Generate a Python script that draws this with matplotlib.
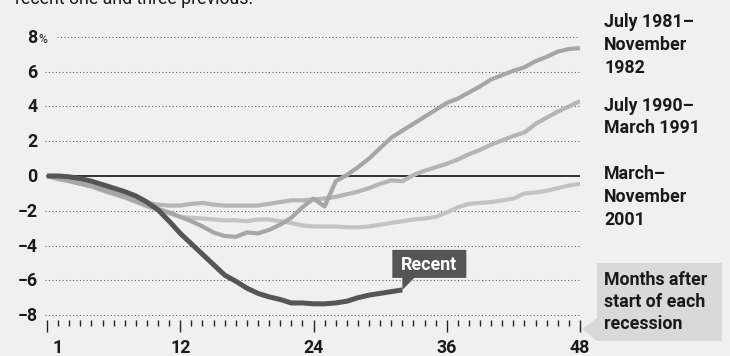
import matplotlib
matplotlib.use("Agg")
import matplotlib.pyplot as plt
from matplotlib.patches import Polygon
from matplotlib.transforms import IdentityTransform

# ---------------- data ----------------
months = list(range(0, 49))
recent = [0, 0.0, -0.05, -0.15, -0.3, -0.5, -0.7, -0.9, -1.15, -1.5, -1.95, -2.6,
          -3.3, -3.9, -4.5, -5.1, -5.7, -6.05, -6.45, -6.75, -6.95, -7.1, -7.3, -7.3,
          -7.35, -7.35, -7.3, -7.2, -7.0, -6.85, -6.75, -6.65, -6.55]
r1981 = [0, -0.15, -0.3, -0.45, -0.6, -0.8, -1.0, -1.2, -1.45, -1.7, -1.9, -2.1,
         -2.35, -2.6, -2.9, -3.25, -3.45, -3.5, -3.25, -3.3, -3.1, -2.8, -2.4, -1.8,
         -1.3, -1.75, -0.3, 0.05, 0.5, 1.0, 1.6, 2.2, 2.6, 3.0, 3.4, 3.8,
         4.2, 4.45, 4.8, 5.15, 5.55, 5.8, 6.05, 6.25, 6.6, 6.85, 7.15, 7.3, 7.35]
r1990 = [0, -0.1, -0.25, -0.4, -0.55, -0.75, -0.95, -1.15, -1.35, -1.55, -1.65, -1.7,
         -1.7, -1.6, -1.55, -1.65, -1.7, -1.7, -1.7, -1.7, -1.6, -1.5, -1.4, -1.4,
         -1.35, -1.3, -1.2, -1.05, -0.9, -0.7, -0.45, -0.25, -0.3, 0.05, 0.3, 0.5,
         0.7, 0.95, 1.25, 1.5, 1.8, 2.05, 2.3, 2.5, 3.0, 3.35, 3.7, 4.0, 4.3]
r2001 = [0, -0.2, -0.3, -0.45, -0.6, -0.85, -1.05, -1.25, -1.5, -1.75, -1.95, -2.15,
         -2.35, -2.4, -2.45, -2.5, -2.55, -2.55, -2.6, -2.5, -2.5, -2.6, -2.7, -2.85,
         -2.9, -2.9, -2.9, -2.95, -2.95, -2.9, -2.8, -2.7, -2.6, -2.5, -2.45, -2.35,
         -2.1, -1.8, -1.6, -1.55, -1.5, -1.4, -1.3, -1.0, -0.95, -0.85, -0.7, -0.55, -0.45]
y_ticks = [8, 6, 4, 2, 0, -2, -4, -6, -8]
x_tick_pos = [1, 12, 24, 36, 48]
x_tick_labels = ["1", "12", "24", "36", "48"]
series_labels = ["July 1981–\nNovember\n1982", "July 1990–\nMarch 1991",
                 "March–\nNovember\n2001"]
recent_label = "Recent"
axis_note = "Months after\nstart of each\nrecession"
subtitle = "recent one and three previous."

# ---------------- style ----------------
FONT = "Roboto"
FS = 12.8
FW = "bold"
BG = "#f0f0f0"
TXT = "#1a1a1a"
W, H = 730, 356

fig = plt.figure(figsize=(W / 100, H / 100), dpi=100, facecolor=BG)

def fx(px):
    return px / W

def fy(py):
    return 1 - py / H

ax = fig.add_axes([fx(44.8), fy(320), (580 - 44.8) / W, (320 - 31.6) / H])
ax.set_facecolor("none")
ax.set_xlim(-0.2, 48)
ax.set_ylim(-8.28, 8.3)
for s in ax.spines.values():
    s.set_visible(False)

# gridlines (dotted) and zero line
for v in y_ticks:
    if v == 0:
        ax.plot([0, 48], [0, 0], color="#111111", lw=1.2, zorder=2)
    else:
        x0 = 0.9 if v == 8 else -0.2
        ax.plot([x0, 48], [v, v], color="#555555", lw=0.75,
                linestyle=(0, (1, 2.3)), zorder=1)

# series
ax.plot(months[:len(r2001)], r2001, color="#c3c3c3", lw=3.0,
        solid_capstyle="butt", solid_joinstyle="round", zorder=3)
ax.plot(months[:len(r1990)], r1990, color="#b5b5b5", lw=3.0,
        solid_capstyle="butt", solid_joinstyle="round", zorder=4)
ax.plot(months[:len(r1981)], r1981, color="#a6a6a6", lw=3.0,
        solid_capstyle="butt", solid_joinstyle="round", zorder=5)
ax.plot(months[:len(recent)], recent, color="#555555", lw=3.6,
        solid_capstyle="butt", solid_joinstyle="round", zorder=6)

# ticks
ax.set_xticks([0, 12, 24, 36, 48])
ax.set_xticks([m for m in months if m % 12 != 0], minor=True)
ax.tick_params(axis="x", which="major", direction="out", length=8.4, width=1.0,
               color="#222222", labelbottom=False)
ax.tick_params(axis="x", which="minor", direction="out", length=4.6, width=1.0,
               color="#222222")
ax.set_yticks([])

# x labels
for p, lab in zip(x_tick_pos, x_tick_labels):
    ax.annotate(lab, xy=(p, 0), xycoords=ax.get_xaxis_transform(),
                xytext=(0, -33), textcoords="offset pixels", ha="center",
                va="baseline", fontsize=FS, family=FONT, fontweight=FW,
                color=TXT, annotation_clip=False)

# y labels
for v in y_ticks:
    lab = str(v).replace("-", "−")
    ax.annotate(lab, xy=(0, v), xycoords=ax.get_yaxis_transform(),
                xytext=(-7, -6), textcoords="offset pixels", ha="right",
                va="baseline", fontsize=FS, family=FONT, fontweight=FW,
                color=TXT, annotation_clip=False)
    if v == 8:
        ax.annotate("%", xy=(0, v), xycoords=ax.get_yaxis_transform(),
                    xytext=(-6, -6), textcoords="offset pixels", ha="left",
                    va="baseline", fontsize=FS * 0.68, family=FONT,
                    color=TXT, annotation_clip=False)

# right-hand series labels
label_baselines = [[27, 50, 73], [111, 133], [179, 202, 225]]
for lab, bls in zip(series_labels, label_baselines):
    for line, b in zip(lab.split("\n"), bls):
        fig.text(fx(604), fy(b), line, ha="left", va="baseline", fontsize=FS,
                 family=FONT, fontweight=FW, color=TXT)

# "Months after..." note with pointer
note_poly = [(597, 263), (722, 263), (722, 341), (597, 341), (582, 329), (597, 318)]
fig.patches.append(Polygon([(fx(a), fy(b)) for a, b in note_poly], closed=True,
                           transform=fig.transFigure, facecolor="#d9d9d9",
                           edgecolor="none", zorder=0))
for line, b in zip(axis_note.split("\n"), [285, 307, 329]):
    fig.text(fx(604), fy(b), line, ha="left", va="baseline", fontsize=FS,
             family=FONT, fontweight=FW, color=TXT)

# "Recent" callout anchored to last recent point
fig.canvas.draw()
ex, ey = ax.transData.transform((months[len(recent) - 1], recent[-1]))
rel = [(-10, 12), (0, 12), (0, 0), (12, 12), (64, 12), (64, 40), (-10, 40)]
poly = Polygon([(ex + a, ey + b) for a, b in rel], closed=True,
               transform=IdentityTransform(), facecolor="#555555",
               edgecolor="none", zorder=10)
fig.patches.append(poly)
fig.text((ex + 27) / W, (ey + 20) / H, recent_label, ha="center", va="baseline",
         fontsize=FS, family=FONT, fontweight="bold", color="white", zorder=11)

# clipped subtitle at top
fig.text(fx(15), fy(3.5), subtitle, ha="left", va="baseline", fontsize=FS,
         family=FONT, color=TXT)

fig.savefig("out.png", dpi=100, facecolor=BG)
